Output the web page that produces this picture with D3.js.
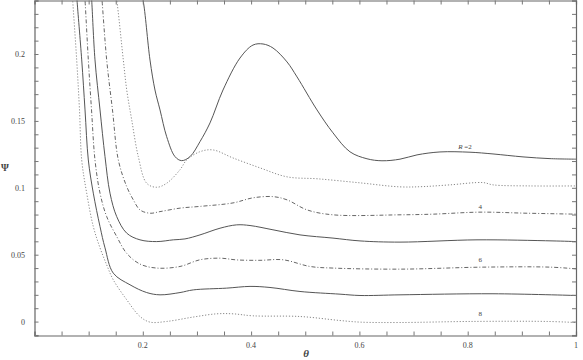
<!DOCTYPE html>
<html>
<head>
<meta charset="utf-8">
<script src="https://cdn.jsdelivr.net/npm/d3@7"></script>
<style>
  body { margin: 0; background: #fff; }
  svg { display: block; }
  text { font-family: "Liberation Serif", "DejaVu Serif", serif; fill: #444; }
</style>
</head>
<body>
<svg width="583" height="360"></svg>
<script>
// curve values: [theta, psi]
const curveR2 = [[0.196,0.246],[0.2004,0.2403],[0.2133,0.1955],[0.2225,0.1731],[0.2318,0.1582],[0.2441,0.1382],[0.2595,0.1233],[0.2718,0.1203],[0.2872,0.1233],[0.3056,0.1345],[0.3241,0.1485],[0.3481,0.1731],[0.3795,0.1970],[0.4035,0.2067],[0.4220,0.2075],[0.4404,0.2045],[0.4663,0.1941],[0.4848,0.1829],[0.5217,0.1582],[0.5512,0.1411],[0.5826,0.1269],[0.6140,0.1217],[0.6417,0.1202],[0.6750,0.1214],[0.7064,0.1246],[0.7488,0.1268],[0.8042,0.1266],[0.8467,0.1253],[0.9021,0.1231],[0.9520,0.1218],[1.0,0.1214]];
const curveR3 = [[0.149,0.246],[0.1518,0.2403],[0.1640,0.1956],[0.1703,0.1732],[0.1795,0.1508],[0.1917,0.1233],[0.2072,0.1034],[0.2257,0.1004],[0.2441,0.1034],[0.2687,0.1135],[0.2811,0.1208],[0.3057,0.1270],[0.3296,0.1283],[0.3666,0.1223],[0.4164,0.1149],[0.4663,0.1082],[0.5235,0.1067],[0.6011,0.1037],[0.6750,0.1007],[0.7175,0.1009],[0.7673,0.1022],[0.8283,0.1039],[0.8467,0.1022],[0.9150,0.1014],[1.0,0.1014]];
const curveR4 = [[0.1235,0.246],[0.1247,0.2403],[0.1333,0.1956],[0.1440,0.1582],[0.1548,0.1208],[0.1703,0.1009],[0.1825,0.0910],[0.1948,0.0835],[0.2133,0.0810],[0.2318,0.0822],[0.2687,0.0848],[0.3056,0.0861],[0.3666,0.0887],[0.4035,0.0925],[0.4404,0.0934],[0.4663,0.0910],[0.5033,0.0835],[0.5513,0.0798],[0.6750,0.0798],[0.7360,0.0803],[0.8227,0.0818],[0.9095,0.0810],[1.0,0.0803]];
const curveR5 = [[0.1045,0.246],[0.1056,0.2403],[0.1117,0.1956],[0.1210,0.1582],[0.1302,0.1233],[0.1394,0.0960],[0.1518,0.0785],[0.1703,0.0661],[0.1948,0.0611],[0.2257,0.0598],[0.2563,0.0611],[0.2779,0.0618],[0.3056,0.0648],[0.3426,0.0698],[0.3734,0.0723],[0.3980,0.0718],[0.4404,0.0686],[0.4903,0.0648],[0.5512,0.0624],[0.6011,0.0603],[0.6750,0.0594],[0.8172,0.0611],[0.9575,0.0603],[1.0,0.0598]];
const curveR6 = [[0.0923,0.246],[0.0933,0.2403],[0.0994,0.1956],[0.1053,0.1582],[0.1117,0.1208],[0.1210,0.0960],[0.1333,0.0785],[0.1518,0.0636],[0.1703,0.0510],[0.1948,0.0430],[0.2257,0.0400],[0.2687,0.0412],[0.3056,0.0462],[0.3426,0.0474],[0.3734,0.0461],[0.4164,0.0458],[0.4589,0.0462],[0.5088,0.0412],[0.5512,0.0400],[0.6750,0.0392],[0.8283,0.0407],[0.9520,0.0407],[1.0,0.0394]];
const curveR7 = [[0.0776,0.246],[0.0785,0.2403],[0.0872,0.1956],[0.0933,0.1582],[0.0994,0.1208],[0.1086,0.0960],[0.1210,0.0710],[0.1302,0.0551],[0.1455,0.0362],[0.1764,0.0275],[0.2072,0.0217],[0.2318,0.0200],[0.2687,0.0217],[0.2933,0.0237],[0.3549,0.0250],[0.3980,0.0263],[0.4349,0.0255],[0.4903,0.0225],[0.5642,0.0205],[0.6011,0.0195],[0.6750,0.0200],[0.8467,0.0208],[1.0,0.0195]];
const curveR8 = [[0.0697,0.246],[0.0705,0.2403],[0.0779,0.1956],[0.0831,0.1582],[0.0872,0.1208],[0.0964,0.0960],[0.1086,0.0710],[0.1210,0.0551],[0.1333,0.0424],[0.1455,0.0312],[0.1703,0.0163],[0.1948,0.0038],[0.2133,-0.0004],[0.2441,0.0001],[0.2933,0.0034],[0.3365,0.0058],[0.3666,0.0058],[0.4035,0.0043],[0.4903,0.0038],[0.5642,0.0008],[0.6011,-0.0004],[0.6750,-0.0007],[0.8042,0.0001],[0.9464,0.0001],[1.0,-0.0007]];

const xTickLabels = [0.2, 0.4, 0.6, 0.8, 1];
const yTickLabels = [0, 0.05, 0.1, 0.15, 0.2];
// curve labels: [text, theta, psi]
const curveLabels = [['2', 0.795, 0.129], ['4', 0.823, 0.084], ['6', 0.823, 0.0445], ['8', 0.823, 0.0045]];

const svg = d3.select('svg');
const plotLeft = 34.5, plotRight = 576, plotTop = 0.5, plotBottom = 335.5;

const x = d3.scaleLinear().domain([0, 1]).range([plotLeft, plotRight]);
const y = d3.scaleLinear().domain([-0.0104, 0.24]).range([plotBottom, plotTop]);

svg.append('clipPath').attr('id', 'plot')
  .append('rect').attr('x', plotLeft).attr('y', plotTop)
  .attr('width', plotRight - plotLeft).attr('height', plotBottom - plotTop);

const line = d3.line()
  .x(d => x(d[0]))
  .y(d => y(d[1]))
  .curve(d3.curveCatmullRom.alpha(0.5));

const series = [
  { data: curveR2, dash: null, color: '#555' },
  { data: curveR3, dash: '1.2,1.8', color: '#888' },
  { data: curveR4, dash: '4,2,1,2', color: '#666' },
  { data: curveR5, dash: null, color: '#555' },
  { data: curveR6, dash: '4,2,1,2', color: '#666' },
  { data: curveR7, dash: null, color: '#555' },
  { data: curveR8, dash: '1.2,1.8', color: '#888' }
];

const g = svg.append('g').attr('clip-path', 'url(#plot)');
g.selectAll('path')
  .data(series)
  .enter().append('path')
  .attr('d', d => line(d.data))
  .attr('fill', 'none')
  .attr('stroke', d => d.color)
  .attr('stroke-width', 1)
  .attr('stroke-dasharray', d => d.dash);

// frame with inward ticks on all four sides
const tickLen = 4;
const xMinor = d3.range(0.05, 1.0001, 0.05);
const yMinor = d3.range(-0.01, 0.24001, 0.01);

const bottomAxis = svg.append('g').attr('transform', 'translate(0,' + plotBottom + ')')
  .call(d3.axisBottom(x).tickValues(xMinor).tickSize(-tickLen).tickFormat(''));
const topAxis = svg.append('g').attr('transform', 'translate(0,' + plotTop + ')')
  .call(d3.axisTop(x).tickValues(xMinor).tickSize(-tickLen).tickFormat(''));
const leftAxis = svg.append('g').attr('transform', 'translate(' + plotLeft + ',0)')
  .call(d3.axisLeft(y).tickValues(yMinor).tickSize(-tickLen).tickFormat(''));
const rightAxis = svg.append('g').attr('transform', 'translate(' + plotRight + ',0)')
  .call(d3.axisRight(y).tickValues(yMinor).tickSize(-tickLen).tickFormat(''));

[bottomAxis, topAxis, leftAxis, rightAxis].forEach(a => {
  a.selectAll('path.domain').attr('stroke', '#666').attr('stroke-width', 1.2);
  a.selectAll('line').attr('stroke', '#777');
});

svg.selectAll('.xlab')
  .data(xTickLabels)
  .enter().append('text')
  .attr('x', d => x(d))
  .attr('y', 348)
  .attr('text-anchor', 'middle')
  .style('font-size', '8px')
  .text(d => d3.format('')(d));

svg.selectAll('.ylab')
  .data(yTickLabels)
  .enter().append('text')
  .attr('x', 25)
  .attr('y', d => y(d) + 3)
  .attr('text-anchor', 'end')
  .style('font-size', '8px')
  .text(d => d3.format('')(d));

svg.selectAll('.clab')
  .data(curveLabels)
  .enter().append('text')
  .attr('x', d => x(d[1]))
  .attr('y', d => y(d[2]))
  .attr('text-anchor', 'middle')
  .style('font-size', '7px')
  .each(function (d) {
    const t = d3.select(this);
    if (d[0] === '2') {
      t.append('tspan').style('font-style', 'italic').text('R');
      t.append('tspan').text(' =2');
    } else {
      t.text(d[0]);
    }
  });

svg.append('text')
  .attr('x', 306)
  .attr('y', 357)
  .attr('text-anchor', 'middle')
  .style('font-size', '11px')
  .style('font-style', 'italic')
  .style('font-weight', 'bold')
  .text('θ');

svg.append('text')
  .attr('x', 5)
  .attr('y', 171)
  .attr('text-anchor', 'middle')
  .style('font-size', '10px')
  .style('font-weight', 'bold')
  .text('Ψ');
</script>
</body>
</html>
